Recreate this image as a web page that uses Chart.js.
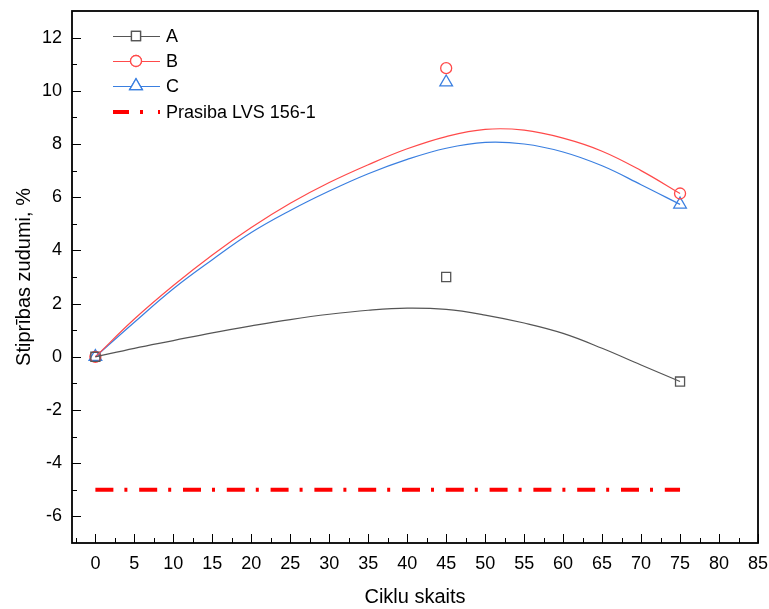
<!DOCTYPE html>
<html>
<head>
<meta charset="utf-8">
<script src="https://cdn.jsdelivr.net/npm/chart.js@4.4.1/dist/chart.umd.min.js"></script>
<style>
    html, body { margin: 0; padding: 0; background: #fff; }
    #wrap { width: 769px; height: 609px; }
</style>
</head>
<body>
<div id="wrap"><canvas id="chart" width="769" height="609"></canvas></div>
<script>
// --- Data ---
const cycles = [0, 45, 75];
const seriesA = [0, 3.0, -0.93];
const seriesB = [0, 10.85, 6.14];
const seriesC = [0, 10.32, 5.73];

const fitX = [0, 5, 10, 15, 20, 25, 30, 35, 40, 45, 50, 55, 60, 65, 70, 75];
const fitA = [0, 0.32, 0.61, 0.90, 1.16, 1.40, 1.60, 1.75, 1.83, 1.78, 1.57, 1.27, 0.88, 0.32, -0.31, -0.93];
const fitB = [0, 1.42, 2.68, 3.83, 4.86, 5.77, 6.55, 7.22, 7.82, 8.28, 8.55, 8.52, 8.22, 7.73, 7.00, 6.14];
const fitC = [0, 1.30, 2.56, 3.65, 4.67, 5.50, 6.23, 6.88, 7.42, 7.84, 8.06, 8.00, 7.70, 7.18, 6.47, 5.73];

// requirement line
const limitX = [0, 75];
const limitY = [-5, -5];

const xTicks = [0, 5, 10, 15, 20, 25, 30, 35, 40, 45, 50, 55, 60, 65, 70, 75, 80, 85];
const yTicks = [-6, -4, -2, 0, 2, 4, 6, 8, 10, 12];
const labels = ['A', 'B', 'C', 'Prasiba LVS 156-1'];

const COL_A = '#555555';
const COL_B = '#ff4a4a';
const COL_C = '#3a7fe0';
const COL_LIM = '#ff0000';
const LIM_DASH = [18, 11, 3, 11.8];
const FONT = '"Liberation Sans", Arial, sans-serif';

const toPts = (xs, ys) => xs.map((x, i) => ({ x: x, y: ys[i] }));

function fitSet(data, color) {
    return {
        data: data,
        showLine: true,
        borderColor: color,
        borderWidth: 1.2,
        pointRadius: 0,
        tension: 0.4
    };
}

function markerSet(data, color, style, r) {
    return {
        data: data,
        showLine: false,
        pointStyle: style,
        pointRadius: r,
        pointBorderColor: color,
        pointBackgroundColor: 'rgba(255,255,255,0)',
        pointBorderWidth: 1.3
    };
}

// --- frame, inward ticks and legend ---
const framePlugin = {
    id: 'frame',
    afterDraw(chart) {
        const { ctx, chartArea: a, scales: { x, y } } = chart;
        ctx.save();
        ctx.strokeStyle = '#000';
        ctx.lineWidth = 1;
        ctx.beginPath();
        xTicks.forEach(v => {
            const px = Math.round(x.getPixelForValue(v)) + 0.5;
            ctx.moveTo(px, a.bottom); ctx.lineTo(px, a.bottom - 9);
        });
        for (let v = -2.5; v < 85; v += 5) {
            const px = Math.round(x.getPixelForValue(v)) + 0.5;
            ctx.moveTo(px, a.bottom); ctx.lineTo(px, a.bottom - 5);
        }
        yTicks.forEach(v => {
            const py = Math.round(y.getPixelForValue(v)) + 0.5;
            ctx.moveTo(a.left, py); ctx.lineTo(a.left + 9, py);
        });
        for (let v = -5; v < 13; v += 2) {
            const py = Math.round(y.getPixelForValue(v)) + 0.5;
            ctx.moveTo(a.left, py); ctx.lineTo(a.left + 5, py);
        }
        ctx.stroke();
        ctx.lineWidth = 1.8;
        ctx.strokeRect(a.left, a.top, a.right - a.left, a.bottom - a.top);

        // legend
        const rows = [36, 61, 86, 112];
        const x0 = 113, x1 = 160, mx = 136;
        const marks = [
            { c: COL_A, s: 'rect', r: 6.4 },
            { c: COL_B, s: 'circle', r: 5.5 },
            { c: COL_C, s: 'triangle', r: 7.3 }
        ];
        marks.forEach((m, i) => {
            ctx.strokeStyle = m.c;
            ctx.lineWidth = 1.2;
            ctx.beginPath();
            ctx.moveTo(x0, rows[i] + 0.5); ctx.lineTo(x1, rows[i] + 0.5);
            ctx.stroke();
            ctx.fillStyle = '#fff';
            ctx.lineWidth = 1.3;
            Chart.helpers.drawPoint(ctx, { pointStyle: m.s, radius: m.r, borderWidth: 1.3, rotation: 0 }, mx, rows[i]);
            ctx.fill();
            ctx.stroke();
        });
        ctx.strokeStyle = COL_LIM;
        ctx.lineWidth = 4;
        ctx.setLineDash([16, 11, 3, 15, 3, 11]);
        ctx.beginPath();
        ctx.moveTo(x0, rows[3]); ctx.lineTo(x1, rows[3]);
        ctx.stroke();
        ctx.setLineDash([]);

        ctx.fillStyle = '#000';
        ctx.font = '18px ' + FONT;
        ctx.textBaseline = 'middle';
        ctx.textAlign = 'left';
        labels.forEach((t, i) => ctx.fillText(t, 166, rows[i] + 1));
        ctx.restore();
    }
};

new Chart(document.getElementById('chart'), {
    type: 'scatter',
    data: {
        datasets: [
            {
                data: toPts(limitX, limitY),
                showLine: true,
                borderColor: COL_LIM,
                borderWidth: 4,
                borderDash: LIM_DASH,
                pointRadius: 0
            },
            fitSet(toPts(fitX, fitA), COL_A),
            fitSet(toPts(fitX, fitB), COL_B),
            fitSet(toPts(fitX, fitC), COL_C),
            markerSet(toPts(cycles, seriesA), COL_A, 'rect', 6.4),
            markerSet(toPts(cycles, seriesB), COL_B, 'circle', 5.5),
            markerSet(toPts(cycles, seriesC), COL_C, 'triangle', 7.3)
        ]
    },
    options: {
        responsive: false,
        animation: false,
        devicePixelRatio: 1,
        layout: { padding: { top: 11, right: 11, left: 0, bottom: 0 } },
        plugins: {
            legend: { display: false },
            tooltip: { enabled: false }
        },
        scales: {
            x: {
                type: 'linear',
                min: -3,
                max: 85,
                afterBuildTicks: s => { s.ticks = xTicks.map(v => ({ value: v })); },
                afterFit: s => { s.height = 66; s.paddingLeft = 0; s.paddingRight = 0; },
                grid: { display: false, drawTicks: false },
                border: { display: false },
                ticks: { color: '#000', font: { family: FONT, size: 18 }, padding: 10, maxRotation: 0, autoSkip: false },
                title: { display: true, text: 'Ciklu skaits', color: '#000', font: { family: FONT, size: 20 }, padding: { top: 0, bottom: 0 } }
            },
            y: {
                type: 'linear',
                min: -7,
                max: 13,
                afterBuildTicks: s => { s.ticks = yTicks.map(v => ({ value: v })); },
                afterFit: s => { s.width = 72; s.paddingTop = 0; s.paddingBottom = 0; },
                grid: { display: false, drawTicks: false },
                border: { display: false },
                ticks: { color: '#000', font: { family: FONT, size: 18 }, padding: 10 },
                title: { display: true, text: 'Stiprības zudumi, %', color: '#000', font: { family: FONT, size: 20 }, padding: { top: 12, bottom: 0 } }
            }
        }
    },
    plugins: [framePlugin]
});
</script>
</body>
</html>
